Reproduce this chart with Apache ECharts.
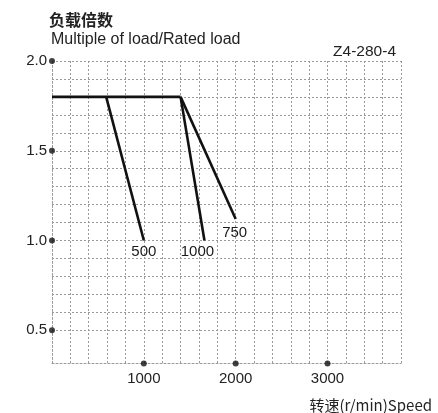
<!DOCTYPE html>
<html>
<head>
<meta charset="utf-8">
<script src="https://cdn.jsdelivr.net/npm/echarts@6/dist/echarts.min.js"></script>
<style>html,body{margin:0;padding:0;background:#fff}#c{width:438px;height:413px}</style>
</head>
<body>
<div id="c"></div>
<script>
// Data
const ratedLine = [[0, 1.8], [1400, 1.8]];
const curve500 = [[590, 1.8], [1000, 1.0]];
const curve1000 = [[1400, 1.8], [1660, 1.0]];
const curve750 = [[1400, 1.8], [2000, 1.12]];
const curveNames = ['500', '1000', '750'];
const xTickLabels = [1000, 2000, 3000];
const yTickLabels = [0.5, 1.0, 1.5, 2.0];
const yGridLines = [0.5, 0.6, 0.7, 0.8, 0.9, 1.0, 1.1, 1.2, 1.3, 1.4, 1.5, 1.6, 1.7, 1.8, 1.9, 2.0];
const xMin = 0, xMax = 3800, xStep = 200;
const yMin = 0.315, yMax = 2.0;

const FONT = '"Liberation Sans", Arial, sans-serif';
const gridStyle = { color: '#9a9a9a', width: 1, type: [2, 2] };
const curveStyle = { color: '#111', width: 2.6 };
const labelOffsets = [[0, 0], [-7, 0], [-1, 2]];

const chart = echarts.init(document.getElementById('c'), null, { renderer: 'canvas' });

function curveSeries(data) {
  return { type: 'line', symbol: 'none', silent: true, clip: false, lineStyle: curveStyle, data: data, z: 5 };
}

const curves = [curve500, curve1000, curve750];
const endLabels = curves.map((c, i) => ({
  value: c[c.length - 1],
  label: { show: true, formatter: curveNames[i], position: 'bottom', distance: 3, offset: labelOffsets[i],
           color: '#1a1a1a', opacity: 1, fontSize: 15, fontFamily: FONT, textBorderWidth: 0 }
}));

const dots = yTickLabels.map(v => [xMin, v]).concat(xTickLabels.map(v => [v, yMin]));

chart.setOption({
  animation: false,
  backgroundColor: '#fff',
  grid: { left: 52, top: 61, right: 37, bottom: 49.5, containLabel: false },
  xAxis: {
    type: 'value', min: xMin, max: xMax, interval: xStep,
    axisLine: { show: true, lineStyle: gridStyle },
    axisTick: { show: false },
    splitLine: { show: true, lineStyle: gridStyle },
    axisLabel: { customValues: xTickLabels, formatter: v => String(v), fontSize: 15, fontFamily: FONT, color: '#222', margin: 8 }
  },
  yAxis: {
    type: 'value', min: yMin, max: yMax,
    axisLine: { show: true, lineStyle: gridStyle },
    axisTick: { show: false },
    splitLine: { show: false },
    axisLabel: { customValues: yTickLabels, formatter: v => v.toFixed(1), fontSize: 15, fontFamily: FONT, color: '#222', margin: 5 }
  },
  graphic: [
    { type: 'text', left: 49, top: 12, style: { text: '负载倍数', font: 'bold 16px "Noto Sans CJK SC"', fill: '#222' } },
    { type: 'text', left: 51, top: 32, style: { text: 'Multiple of load/Rated load', font: '16px ' + FONT, fill: '#222' } },
    { type: 'text', right: 42, top: 44, style: { text: 'Z4-280-4', font: '15.5px ' + FONT, fill: '#222' } },
    { type: 'text', right: 6, top: 398, style: { text: '转速(r/min)Speed', font: '15px "Noto Sans CJK SC", ' + FONT, fill: '#222' } }
  ],
  series: [
    {
      type: 'line', symbol: 'none', silent: true, data: [],
      markLine: {
        silent: true, symbol: 'none', label: { show: false },
        lineStyle: gridStyle,
        data: yGridLines.map(v => ({ yAxis: v }))
      }
    },
    curveSeries(ratedLine),
    curveSeries(curve500),
    curveSeries(curve1000),
    curveSeries(curve750),
    {
      type: 'scatter', silent: true, clip: false, symbol: 'circle', symbolSize: 2,
      itemStyle: { color: '#fff', opacity: 0 },
      data: endLabels, z: 7
    },
    {
      type: 'scatter', silent: true, clip: false, symbol: 'circle', symbolSize: 6,
      itemStyle: { color: '#111' }, data: dots, z: 6
    }
  ]
});
</script>
</body>
</html>
